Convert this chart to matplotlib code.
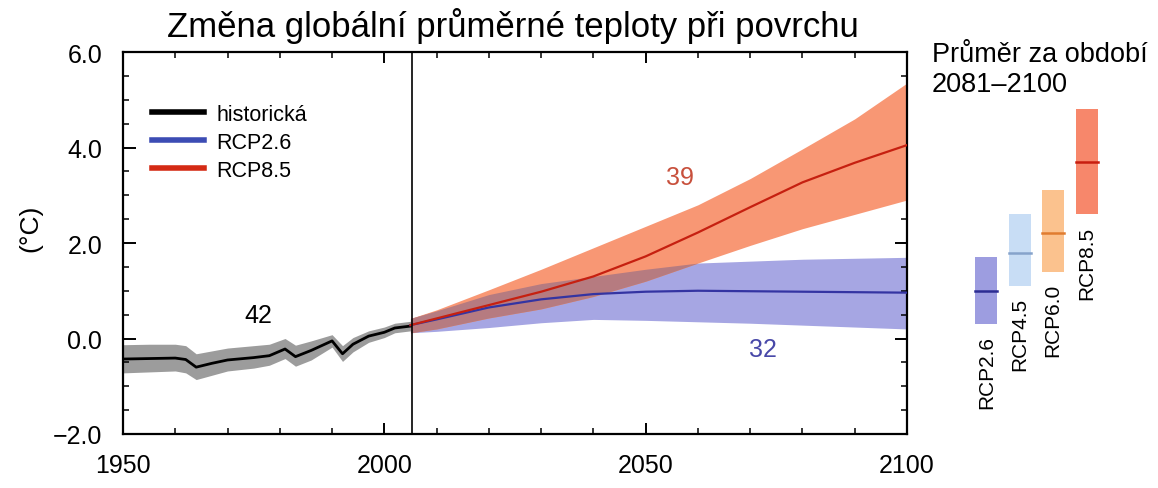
"""Global mean surface temperature change: historical run plus RCP2.6 / RCP8.5 projections.

Right-hand panel shows 2081-2100 means with ranges for all four RCPs.
"""
from __future__ import annotations

import matplotlib

matplotlib.use("Agg")
import matplotlib.pyplot as plt
import numpy as np
from matplotlib.lines import Line2D
from matplotlib.ticker import MultipleLocator

plt.rcParams["font.family"] = ["Liberation Sans", "DejaVu Sans"]

# historical simulation (multi-model mean and spread)
hist_years = [1950, 1955, 1960, 1962, 1964, 1967, 1970, 1975, 1978, 1981,
              1983, 1986, 1990, 1992, 1994, 1997, 2000, 2002, 2005]
hist_mean = [-0.43, -0.42, -0.41, -0.44, -0.60, -0.52, -0.45, -0.40, -0.36, -0.22,
             -0.38, -0.25, -0.05, -0.32, -0.12, 0.05, 0.13, 0.22, 0.26]
hist_upper = [-0.13, -0.12, -0.12, -0.15, -0.32, -0.26, -0.20, -0.15, -0.12, 0.00,
              -0.14, -0.05, 0.08, -0.15, 0.02, 0.16, 0.24, 0.32, 0.36]
hist_lower = [-0.72, -0.70, -0.68, -0.72, -0.86, -0.77, -0.68, -0.62, -0.56, -0.42,
              -0.58, -0.45, -0.18, -0.48, -0.28, -0.08, 0.02, 0.12, 0.16]

# projections
proj_years = [2005, 2010, 2020, 2030, 2040, 2050, 2060, 2070, 2080, 2090, 2100]
rcp26_mean = [0.28, 0.40, 0.65, 0.82, 0.93, 0.98, 1.00, 0.99, 0.98, 0.97, 0.96]
rcp26_upper = [0.42, 0.58, 0.92, 1.15, 1.30, 1.45, 1.58, 1.62, 1.66, 1.68, 1.70]
rcp26_lower = [0.12, 0.15, 0.23, 0.33, 0.40, 0.38, 0.35, 0.32, 0.28, 0.24, 0.20]
rcp85_mean = [0.28, 0.42, 0.70, 0.98, 1.30, 1.72, 2.22, 2.75, 3.27, 3.68, 4.05]
rcp85_upper = [0.42, 0.60, 1.02, 1.45, 1.90, 2.35, 2.80, 3.35, 3.97, 4.60, 5.35]
rcp85_lower = [0.12, 0.20, 0.43, 0.62, 0.88, 1.20, 1.58, 1.95, 2.30, 2.60, 2.90]

# 2081-2100 means and ranges
period_names = ["RCP2.6", "RCP4.5", "RCP6.0", "RCP8.5"]
period_mean = [1.0, 1.8, 2.2, 3.7]
period_low = [0.3, 1.1, 1.4, 2.6]
period_high = [1.7, 2.6, 3.1, 4.8]

model_counts = {"historical": "42", "rcp26": "32", "rcp85": "39"}

FILL_COLORS = ["#9d9de0", "#c8ddf5", "#fbc28e", "#f7876b"]
LINE_COLORS = ["#2c2c92", "#86a3cb", "#e07c30", "#c81e10"]


def draw_main(ax) -> None:
    hy = np.array(hist_years)
    py = np.array(proj_years)

    ax.fill_between(hy, hist_lower, hist_upper, color="#9c9c9c", lw=0, zorder=1)

    lo26, hi26 = np.array(rcp26_lower), np.array(rcp26_upper)
    lo85, hi85 = np.array(rcp85_lower), np.array(rcp85_upper)
    ax.fill_between(py, lo26, hi26, color="#a6a6e3", lw=0, zorder=1)
    ax.fill_between(py, lo85, hi85, color="#f89774", lw=0, zorder=2)
    # overlap of the two ranges is shown in a darker mixed tone
    lo, hi = np.maximum(lo26, lo85), np.minimum(hi26, hi85)
    ax.fill_between(py, lo, hi, where=hi > lo, interpolate=True,
                    color="#b67b80", lw=0, zorder=3)

    ax.plot(hy, hist_mean, color="black", lw=2, zorder=5)
    ax.plot(py, rcp26_mean, color="#3434a2", lw=1.6, zorder=5)
    ax.plot(py, rcp85_mean, color="#c62010", lw=1.6, zorder=6)

    ax.axvline(2005.2, color="black", lw=1.2, zorder=7)

    ax.set_xlim(1950, 2100)
    ax.set_ylim(-2, 6)
    ax.set_xticks([1950, 2000, 2050, 2100])
    ax.set_yticks([-2, 0, 2, 4, 6])
    ax.set_yticklabels(["\u22122.0", "0.0", "2.0", "4.0", "6.0"])
    ax.xaxis.set_minor_locator(MultipleLocator(10))
    ax.yaxis.set_minor_locator(MultipleLocator(0.5))
    ax.tick_params(which="both", direction="in", top=True, right=True,
                   labelsize=18, width=1.4)
    ax.tick_params(axis="x", which="major", length=8, pad=14)
    ax.tick_params(axis="y", which="major", length=9, pad=15)
    ax.tick_params(which="minor", length=4, width=1.1)
    for spine in ax.spines.values():
        spine.set_linewidth(1.6)

    ax.text(1975.8, 0.49, model_counts["historical"], fontsize=18,
            ha="center", va="center", color="black")
    ax.text(2056.6, 3.38, model_counts["rcp85"], fontsize=18,
            ha="center", va="center", color="#c8503c")
    ax.text(2072.4, -0.22, model_counts["rcp26"], fontsize=18,
            ha="center", va="center", color="#4848a8")

    handles = [
        Line2D([], [], color="black", lw=4),
        Line2D([], [], color="#3c4cb4", lw=4),
        Line2D([], [], color="#d42a14", lw=4),
    ]
    ax.legend(handles, ["historická", "RCP2.6", "RCP8.5"], loc="upper left",
              bbox_to_anchor=(0.037, 0.864), frameon=False, fontsize=15.5,
              handlelength=2.4, handletextpad=0.6, labelspacing=0.32,
              borderpad=0, borderaxespad=0)


def draw_period(ax) -> None:
    for i, name in enumerate(period_names):
        ax.bar(i, period_high[i] - period_low[i], bottom=period_low[i], width=0.66,
               color=FILL_COLORS[i], lw=0)
        ax.plot([i - 0.33, i + 0.33], [period_mean[i]] * 2, color=LINE_COLORS[i], lw=1.8)
        ax.annotate(name, (i, period_low[i]), xytext=(0, -8), textcoords="offset points",
                    rotation=90, ha="center", va="top", fontsize=15)
    ax.set_xlim(-1, 4)
    ax.set_ylim(-2, 6)
    ax.axis("off")


def main() -> None:
    fig = plt.figure(figsize=(11.58, 4.89), dpi=100)
    ax = fig.add_axes([123 / 1158, 54 / 489, 784 / 1158, 382 / 489])
    ax_p = fig.add_axes([953 / 1158, 54 / 489, 167 / 1158, 382 / 489])

    draw_main(ax)
    draw_period(ax_p)

    fig.text(513 / 1158, 1 - 37 / 489, "Změna globální průměrné teploty při povrchu",
             fontsize=25, ha="center", va="baseline")
    fig.text(30 / 1158, 1 - 228 / 489, "(°C)", fontsize=19, rotation=90,
             ha="center", va="center")
    fig.text(932 / 1158, 1 - 62 / 489, "Průměr za období", fontsize=19.5,
             ha="left", va="baseline")
    fig.text(932 / 1158, 1 - 92 / 489, "2081–2100", fontsize=19.5,
             ha="left", va="baseline")

    fig.savefig("out.png", dpi=100)
    plt.close(fig)


if __name__ == "__main__":
    main()
